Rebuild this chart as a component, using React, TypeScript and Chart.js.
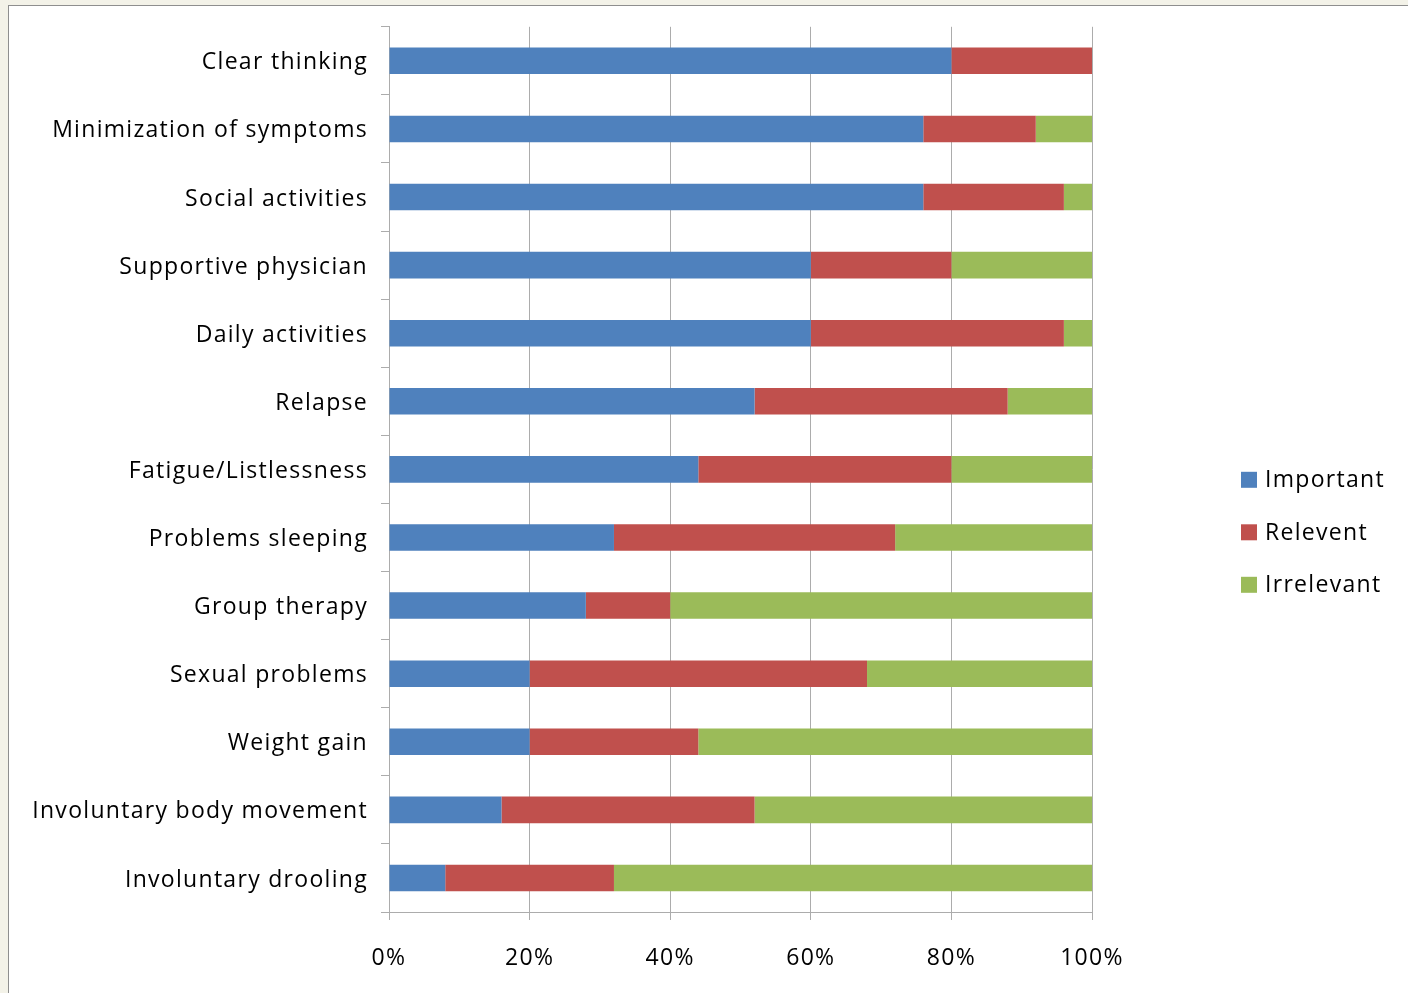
import { useEffect, useRef } from 'react';
import { Chart, registerables } from 'chart.js';
import type { Plugin } from 'chart.js';

Chart.register(...registerables);

const categories = [
  'Clear thinking',
  'Minimization of symptoms',
  'Social activities',
  'Supportive physician',
  'Daily activities',
  'Relapse',
  'Fatigue/Listlessness',
  'Problems sleeping',
  'Group therapy',
  'Sexual problems',
  'Weight gain',
  'Involuntary body movement',
  'Involuntary drooling',
];

// percent of respondents per rating
const important = [80, 76, 76, 60, 60, 52, 44, 32, 28, 20, 20, 16, 8];
const relevent = [20, 16, 20, 20, 36, 36, 36, 40, 12, 48, 24, 36, 24];
const irrelevant = [0, 8, 4, 20, 4, 12, 20, 28, 60, 32, 56, 48, 68];

const seriesNames = ['Important', 'Relevent', 'Irrelevant'];
const seriesColors = ['#4f81bd', '#c0504d', '#9bbb59'];

const FONT = '"Open Sans", Lato, sans-serif';
const FONT_SIZE = 23;
const GRID = '#acacac';

// the original text is set loosely (Calibri in Excel), widen the spacing a bit
const looseText: Plugin<'bar'> = {
  id: 'looseText',
  beforeDraw(chart) {
    (chart.ctx as any).letterSpacing = '1.3px';
  },
};

// legend drawn at the right, centred beside the plot like the Excel original
const sideLegend: Plugin<'bar'> = {
  id: 'sideLegend',
  afterDraw(chart) {
    const { ctx, chartArea } = chart;
    const x = chartArea.right + 149;
    const y0 = chartArea.top + 453;
    ctx.save();
    ctx.font = `${FONT_SIZE}px ${FONT}`;
    ctx.textBaseline = 'middle';
    ctx.textAlign = 'left';
    chart.data.datasets.forEach((ds, i) => {
      const y = y0 + i * 52.5;
      ctx.fillStyle = ds.backgroundColor as string;
      ctx.fillRect(x, y - 8, 16, 16);
      ctx.fillStyle = '#000';
      ctx.fillText(String(ds.label), x + 24, y + 1);
    });
    ctx.restore();
  },
};

export default function App() {
  const canvasRef = useRef<HTMLCanvasElement | null>(null);
  const chartRef = useRef<Chart<'bar'> | null>(null);

  useEffect(() => {
    document.body.style.margin = '0';
    if (!canvasRef.current) return;
    const ctx = canvasRef.current.getContext('2d');
    if (!ctx) return;

    const values = [important, relevent, irrelevant];

    if (chartRef.current) chartRef.current.destroy();

    chartRef.current = new Chart(ctx, {
      type: 'bar',
      data: {
        labels: categories,
        datasets: values.map((v, i) => ({
          label: seriesNames[i],
          data: v,
          backgroundColor: seriesColors[i],
          borderWidth: 0,
          barPercentage: 0.39,
          categoryPercentage: 1,
        })),
      },
      options: {
        indexAxis: 'y',
        responsive: false,
        animation: false,
        layout: { padding: { top: 23, right: 316, left: 0, bottom: 0 } },
        plugins: {
          legend: { display: false },
          tooltip: { enabled: false },
        },
        scales: {
          x: {
            stacked: true,
            min: 0,
            max: 100,
            afterFit: (scale) => { scale.height = 81; },
            grid: { color: GRID, tickLength: 8, lineWidth: 1 },
            border: { color: GRID },
            ticks: {
              stepSize: 20,
              padding: 25,
              color: '#000',
              font: { family: FONT, size: FONT_SIZE },
              callback: (v) => `${v}%`,
            },
          },
          y: {
            stacked: true,
            afterFit: (scale) => { scale.width = 389; },
            grid: { drawOnChartArea: false, color: GRID, tickLength: 8, offset: true },
            border: { color: GRID },
            ticks: {
              autoSkip: false,
              padding: 13,
              labelOffset: 2,
              color: '#000',
              font: { family: FONT, size: FONT_SIZE },
            },
          },
        },
      },
      plugins: [looseText, sideLegend],
    });

    return () => { chartRef.current?.destroy(); };
  }, []);

  return (
    <div style={{ position: 'relative', width: 1408, height: 993, background: '#f3f2e8', overflow: 'hidden' }}>
      <div
        style={{
          position: 'absolute', left: 8, top: 5, width: 1420, height: 1000,
          background: '#fff', borderLeft: '1px solid #8e8e8e', borderTop: '1px solid #8e8e8e',
        }}
      />
      <canvas ref={canvasRef} width={1408} height={993} style={{ position: 'absolute', left: 0, top: 0 }} />
    </div>
  );
}
